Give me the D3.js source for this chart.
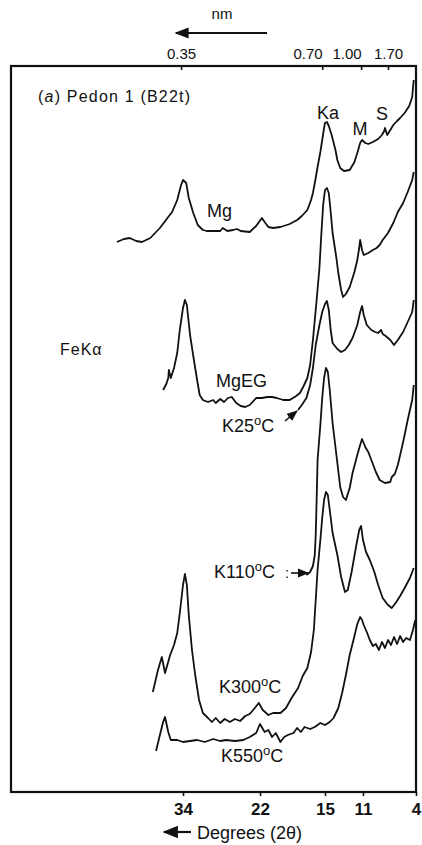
<!DOCTYPE html>
<html>
<head>
<meta charset="utf-8">
<script src="https://cdn.jsdelivr.net/npm/d3@7"></script>
<style>
body { margin: 0; background: #fff; }
text { font-family: "Liberation Sans", Arial, Helvetica, sans-serif; fill: #111; }
</style>
</head>
<body>
<div id="chart-area"></div>
<script>

// bottom axis, degrees 2 theta (the original spacing is hand drawn, so the scale is piecewise)
var degTicks = [34, 22, 15, 11, 4];
// top axis, d-spacing in nm and the 2 theta each one sits at
var nmTicks = ["0.35", "0.70", "1.00", "1.70"];
var nmTickDeg = [34.3, 15.3, 11.2, 7.7];

// patterns: [2theta, intensity (arbitrary, already offset)]
var mgPattern = [[44.3,275],[43.2,276.5],[42.3,277],[41.3,275.5],[40.4,275],[39.1,277],[37.6,282],[36.3,287.5],[35.7,290],[34.9,296],[34.3,303.5],[34.0,306],[33.5,304.5],[33.1,297],[32.4,289.5],[31.7,283.5],[30.9,281],[30.3,280.5],[29.0,280.5],[28.2,280.5],[27.8,282],[27.1,280.5],[26.2,281],[25.6,281.5],[25.0,280.5],[23.6,280],[22.6,283],[21.8,287],[21.5,285],[21.1,282.5],[20.6,282],[19.8,282.5],[18.8,284],[18.0,286],[17.5,288],[16.9,291],[16.5,296],[16.3,299.5],[16.0,307],[15.8,312.5],[15.5,320],[15.3,326],[15.1,332],[15.0,334.5],[14.8,335],[14.6,333],[14.3,328.5],[13.9,321],[13.7,316],[13.4,312],[13.0,310.5],[12.4,311],[11.9,315],[11.6,319.5],[11.3,324.5],[11.1,326],[10.7,324.5],[10.3,324],[9.7,325],[9.0,326.5],[8.5,328.5],[8.2,330.5],[8.1,332],[7.8,328.5],[7.4,331],[7.0,333.5],[6.5,335.5],[6.1,337],[5.5,339.5],[4.9,343],[4.5,347.5],[4.4,352],[4.3,356]];

var mgEgPattern = [[37.1,201],[36.6,204],[36.3,207],[36.2,211],[35.9,207],[35.4,212],[34.9,219.5],[34.5,231],[34.0,242],[33.7,246],[33.4,243.5],[32.9,228.5],[32.3,216],[31.8,206],[31.4,198.5],[30.9,196],[30.1,195],[29.3,196],[28.9,194.5],[28.2,196.5],[27.6,195],[27.0,197],[26.4,197.5],[25.7,194.5],[25.0,193],[24.3,192.5],[23.6,193.5],[22.6,197],[21.8,197],[21.2,197.5],[20.7,197.5],[20.2,197],[19.5,196],[18.8,196],[18.1,198],[17.7,199.5],[17.3,203],[16.9,207],[16.6,213.5],[16.3,226],[16.1,236],[15.9,246],[15.6,262],[15.4,278.5],[15.2,293.5],[15.0,301],[14.8,302],[14.6,299.5],[14.4,290],[14.2,279.5],[13.8,267],[13.6,259.5],[13.3,251],[13.1,247.5],[12.8,249],[12.4,252.5],[11.9,260],[11.6,266],[11.4,272],[11.3,276],[11.1,271],[10.9,268.5],[10.3,269.5],[9.7,271],[9.2,272],[8.8,273.5],[8.4,276],[7.7,279.5],[7.0,284.5],[6.4,290],[5.7,294.5],[5.1,300],[4.5,306],[4.3,310]];

var k25Pattern = [[17.9,191],[17.5,193.5],[17.0,197],[16.6,203.5],[16.3,212],[16.0,223.5],[15.6,233.5],[15.3,240],[15.0,244],[14.8,245.5],[14.6,241],[14.4,231],[14.2,224.5],[13.7,221.5],[13.3,220],[12.9,221],[12.5,223.5],[12.1,227],[11.6,233.5],[11.3,240],[11.1,243],[10.9,238.5],[10.5,233.5],[9.9,231],[9.4,230],[9.0,229.5],[8.6,231],[8.4,229],[8.0,228],[7.4,226],[6.9,223.5],[6.4,226],[5.7,230],[5.1,235],[4.5,240],[4.3,246]];

var k110Pattern = [[17.0,108.5],[16.6,110],[16.3,113],[16.1,118.5],[16.0,128.5],[15.9,146],[15.8,166],[15.5,183.5],[15.3,197],[15.1,207],[14.9,212],[14.7,210],[14.5,201],[14.2,184.5],[13.8,168.5],[13.4,152.5],[13.1,147.5],[12.8,146],[12.4,152],[12.1,159.5],[11.6,168.5],[11.3,173.5],[11.1,176.5],[10.7,172.5],[10.3,170],[9.8,165],[9.3,160],[8.8,156],[8.1,154.5],[7.4,155],[7.2,157.5],[6.8,159],[6.4,163.5],[6.0,170],[5.5,178.5],[5.1,186],[4.5,196],[4.3,203.5]];

var k300Pattern = [[38.7,50],[37.9,61],[37.3,67.5],[36.8,59.5],[36.0,68.5],[35.4,73.5],[34.9,79.5],[34.5,89.5],[34.0,103.5],[33.7,109],[33.4,103.5],[33.1,88.5],[32.6,71],[32.1,58.5],[31.5,46],[30.9,39.5],[30.1,37],[29.5,35],[28.9,37],[28.2,34.5],[27.5,36.5],[26.7,35],[25.9,36.5],[25.1,35.5],[24.3,38],[23.6,39],[22.8,42],[22.2,44.5],[21.7,41],[21.1,38.5],[20.6,39.5],[19.8,39.5],[19.2,42],[18.6,47],[17.9,52],[17.4,58],[16.9,62],[16.5,70],[16.2,81],[16.0,96],[15.8,111],[15.5,126],[15.3,137],[15.1,146],[14.9,150],[14.7,148.5],[14.5,141],[14.2,129.5],[13.7,118.5],[13.3,107.5],[12.9,100],[12.6,101],[12.2,110],[11.7,123.5],[11.4,131],[11.2,133],[11.0,126],[10.6,120],[10.1,116],[9.5,110],[9.0,103.5],[8.4,97],[7.7,93.5],[7.2,92],[6.6,95],[6.1,98],[5.5,102],[4.8,107],[4.3,112]];

var k550Pattern = [[38.2,20.5],[37.6,28.5],[37.1,35],[36.8,37.5],[36.3,30],[35.9,26],[34.9,26],[34.0,25],[32.9,25.5],[31.8,26],[30.6,25],[29.3,26.5],[28.2,25.5],[27.3,26],[25.9,25.5],[24.6,26],[23.6,27.5],[22.6,29.5],[22.0,34],[21.5,30],[21.1,31],[20.7,27.5],[20.3,29.5],[19.8,25],[19.4,27.5],[19.0,28.5],[18.4,29.5],[18.0,32],[17.6,30],[17.2,32.5],[16.6,31.5],[16.1,32.5],[15.5,34.5],[15.0,33.5],[14.5,35],[14.1,37],[13.6,42],[13.2,49.5],[12.8,58.5],[12.4,68.5],[11.9,78],[11.6,84],[11.3,87.5],[11.1,86],[10.9,83.5],[10.5,80],[10.1,76],[9.7,73],[9.3,74],[8.9,71],[8.5,75],[8.1,72],[7.7,76],[7.3,73.5],[6.9,77.5],[6.5,74],[6.1,78],[5.7,75],[5.3,77],[4.8,76],[4.4,81],[4.1,86]];

var patterns = [mgPattern, mgEgPattern, k25Pattern, k110Pattern, k300Pattern, k550Pattern];

var margin = {top: 66, right: 6, bottom: 53, left: 11},
    width = 422 - margin.left - margin.right,
    height = 845 - margin.top - margin.bottom;

var svg = d3.select("#chart-area")
    .append("svg")
        .attr("width", 422)
        .attr("height", 845);

var defs = svg.append("defs");
defs.append("marker")
    .attr("id", "head")
    .attr("viewBox", "0 0 10 10")
    .attr("refX", 9).attr("refY", 5)
    .attr("markerWidth", 7).attr("markerHeight", 7)
    .attr("orient", "auto-start-reverse")
  .append("path")
    .attr("d", "M0,1L10,5L0,9z")
    .attr("fill", "#111");

var g = svg.append("g")
        .attr("transform", "translate(" + margin.left + "," + margin.top + ")");

var xScale = d3.scaleLinear()
    .domain(degTicks)
    .range([172, 249, 314, 352, 405]);
var yScale = d3.scaleLinear().domain([0, 363]).range([height, 0]);

// axes
var xAxis = d3.axisBottom(xScale).tickValues(degTicks)
    .tickSizeInner(4).tickSizeOuter(0).tickPadding(7);
var nmAxis = d3.axisTop(xScale).tickValues(nmTickDeg)
    .tickFormat(function(d, i) { return nmTicks[i]; })
    .tickSizeInner(-4).tickSizeOuter(0).tickPadding(7);

var xAxisEl = g.append("g")
        .attr("transform", "translate(0," + height + ")")
        .call(xAxis);
xAxisEl.selectAll("text").style("font-size", "17px").style("font-weight", "bold").attr("fill", "#111");

var nmAxisEl = g.append("g").call(nmAxis);
nmAxisEl.selectAll("text").style("font-size", "15px").attr("fill", "#111")
    .attr("text-anchor", function(d, i) { return (i == 1 || i == 2) ? "end" : "middle"; });

g.selectAll(".domain").remove();
g.selectAll(".tick line").attr("stroke", "#111").attr("stroke-width", 1.6);

// frame
g.append("rect")
    .attr("width", width).attr("height", height)
    .attr("fill", "none").attr("stroke", "#111").attr("stroke-width", 2.2);

// the six patterns
var line = d3.line()
    .x(function(d) { return xScale(d[0]); })
    .y(function(d) { return yScale(d[1]); });

g.selectAll(".pattern")
    .data(patterns)
    .enter()
    .append("path")
    .attr("class", "pattern")
    .attr("d", line)
    .attr("fill", "none")
    .attr("stroke", "#111")
    .attr("stroke-width", 1.8)
    .attr("stroke-linejoin", "round");

// text around the frame
svg.append("text").attr("x", 222).attr("y", 19).attr("text-anchor", "middle")
    .style("font-size", "15px").text("nm");
svg.append("line").attr("x1", 267).attr("y1", 33).attr("x2", 176).attr("y2", 33)
    .attr("stroke", "#111").attr("stroke-width", 2).attr("marker-end", "url(#head)");

var deg = svg.append("text").attr("x", 197).attr("y", 839).style("font-size", "18px");
deg.text("Degrees (2θ)");
svg.append("line").attr("x1", 191).attr("y1", 832).attr("x2", 164).attr("y2", 832)
    .attr("stroke", "#111").attr("stroke-width", 2.2).attr("marker-end", "url(#head)");

var title = svg.append("text").attr("x", 38).attr("y", 102)
    .style("font-size", "16px").style("letter-spacing", "1.2px");
title.append("tspan").text("(");
title.append("tspan").style("font-style", "italic").text("a");
title.append("tspan").text(")  Pedon 1 (B22t)");

svg.append("text").attr("x", 60).attr("y", 355).style("font-size", "16px")
    .style("letter-spacing", "1px").text("FeKα");

function peakLabel(txt, x, y) {
    svg.append("text").attr("x", x).attr("y", y).attr("text-anchor", "middle")
        .style("font-size", "18px").text(txt);
}
peakLabel("Ka", 328, 119);
peakLabel("M", 360, 135);
peakLabel("S", 382, 120);

svg.append("text").attr("x", 207).attr("y", 217).style("font-size", "18px").text("Mg");
svg.append("text").attr("x", 216).attr("y", 387).style("font-size", "18px").text("MgEG");

function tempLabel(num, x, y) {
    var t = svg.append("text").attr("x", x).attr("y", y).style("font-size", "18px");
    t.append("tspan").text("K" + num);
    t.append("tspan").attr("dy", -7).style("font-size", "13px").text("o");
    t.append("tspan").attr("dy", 7).text("C");
}
tempLabel("25", 222, 432);
tempLabel("110", 214, 578);
tempLabel("300", 219, 693);
tempLabel("550", 221, 762);

// pointers from labels to their traces
svg.append("line").attr("x1", 285).attr("y1", 421).attr("x2", 297).attr("y2", 411)
    .attr("stroke", "#111").attr("stroke-width", 1.6).attr("marker-end", "url(#head)");
svg.append("text").attr("x", 285).attr("y", 578).style("font-size", "15px").text(":");
svg.append("line").attr("x1", 291).attr("y1", 573).attr("x2", 308).attr("y2", 573)
    .attr("stroke", "#111").attr("stroke-width", 1.6).attr("marker-end", "url(#head)");

</script>
</body>
</html>
